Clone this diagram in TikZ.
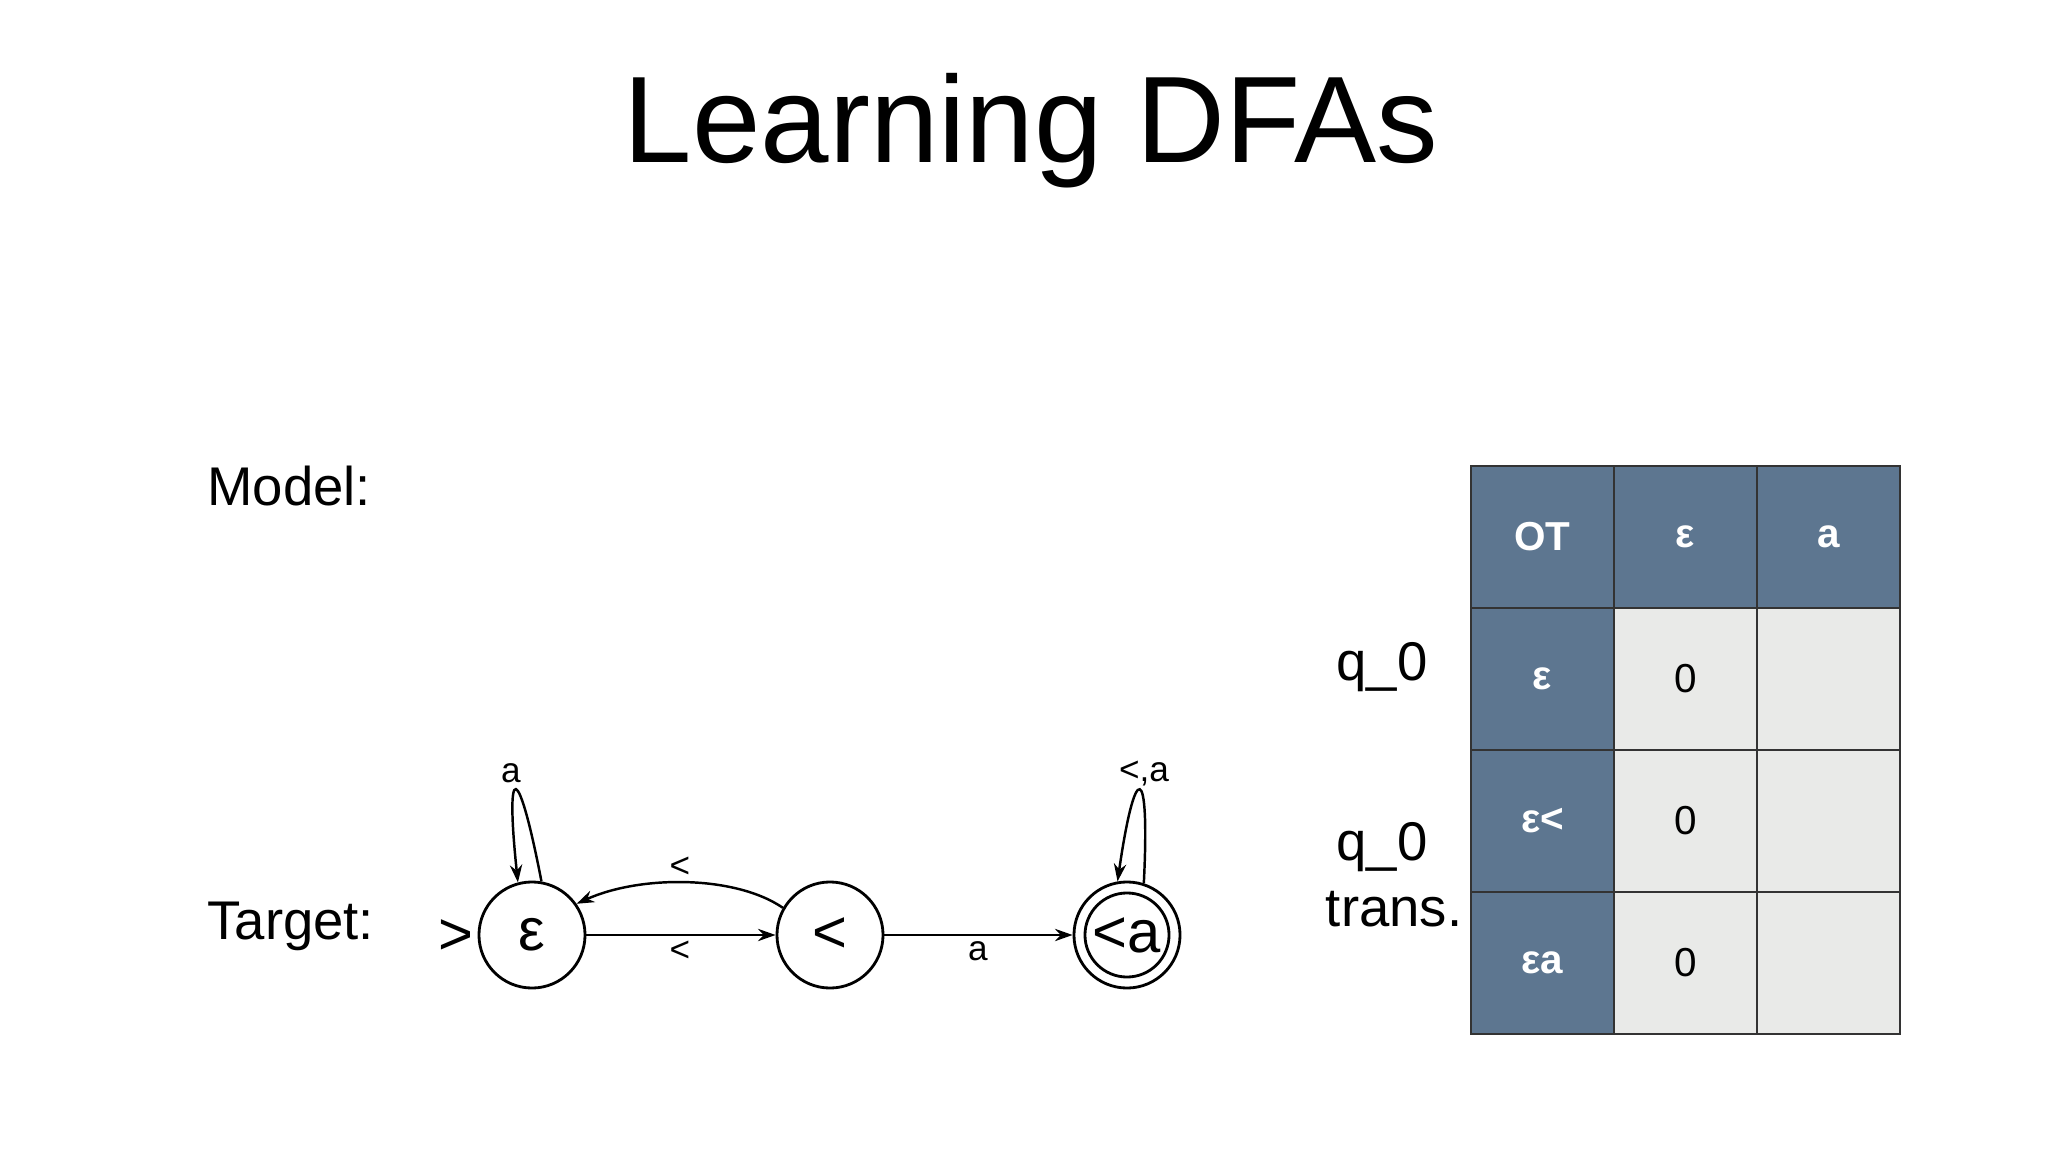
\documentclass[tikz,border=0pt]{standalone}
\usepackage{fontspec}
\setmainfont{Liberation Sans}
\usetikzlibrary{arrows.meta}
\definecolor{hdr}{HTML}{5D7690}
\definecolor{cell}{HTML}{E9EAE8}
\begin{document}
\begin{tikzpicture}[x=0.01cm,y=-0.01cm,
  st/.style={circle,draw,line width=0.8pt,inner sep=0pt,minimum size=1.06cm,font=\fontsize{17}{19}\selectfont},
  lbl/.style={font=\fontsize{10}{12}\selectfont},
  big/.style={font=\fontsize{15.5}{18}\selectfont},
  edge/.style={draw,line width=0.7pt,-{Stealth[length=5pt,width=3.5pt]}},
  tx/.style={font=\fontsize{11.5}{14}\selectfont},
  hc/.style={fill=hdr,draw=black!80,line width=0.6pt},
  lc/.style={fill=cell,draw=black!80,line width=0.6pt}]
\useasboundingbox (0,0) rectangle (2048,1152);
\node[font=\fontsize{35}{40}\selectfont] (title) at (1031,131) {Learning DFAs};
\node[big,anchor=west] (model) at (195,486) {Model:};
\node[big,anchor=west] (target) at (195,926) {Target:};
% states
\node[st] (s0) at (532,935) {ε};
\node[st] (s1) at (830,935) {<};
\node[st] (s2) at (1127,935) {};
\node[circle,draw,line width=0.8pt,inner sep=0pt,minimum size=0.84cm,font=\fontsize{17}{19}\selectfont] (s2i) at (1127,935) {<a};
\node[big,font=\fontsize{17}{19}\selectfont] (start) at (456,937) {>};
\node[lbl] (la) at (511,773) {a};
\node[lbl] (lla) at (1144,773) {<,a};
\node[lbl] (lback) at (680,867) {<};
\node[lbl] (lfwd) at (680,951) {<};
\node[lbl] (lfa) at (978,951) {a};
\draw[edge] (s0.80) .. controls (518,760) and (505,760) .. (s0.105);
\draw[edge] (s2.72) .. controls (1150,760) and (1135,760) .. (s2.100);
\draw[edge] (s0.east) -- (s1.west);
\draw[edge] (s1.east) -- (s2.west);
\draw[edge] (s1.150) .. controls (735,875) and (640,875) .. (s0.35);
% table
\foreach \c/\x in {0/1471,1/1614,2/1757}{
  \foreach \r/\y in {0/466,1/608,2/750,3/892}{
    \ifnum\r=0 \def\sty{hc}\else\ifnum\c=0 \def\sty{hc}\else\def\sty{lc}\fi\fi
    \path[\sty] (\x,\y) rectangle ++(143,142);
  }}
\tikzset{wb/.style={tx,text=white,font=\fontsize{11.5}{14}\selectfont\bfseries}}
\node[wb] (h0) at (1542.5,537) {OT};
\node[wb] (h1) at (1685.5,537) {ε};
\node[wb] (h2) at (1828.5,537) {a};
\node[wb] (r1) at (1542.5,679) {ε};
\node[wb] (r2) at (1542.5,821) {ε<};
\node[wb] (r3) at (1542.5,963) {εa};
\node[tx] (v1) at (1685.5,679) {0};
\node[tx] (v2) at (1685.5,821) {0};
\node[tx] (v3) at (1685.5,963) {0};
\node[big,anchor=east] (q1) at (1440,667) {q\_0};
\node[big,anchor=east] (q2) at (1440,847) {q\_0};
\node[big] (tr) at (1394,909) {trans.};
\end{tikzpicture}
\end{document}
